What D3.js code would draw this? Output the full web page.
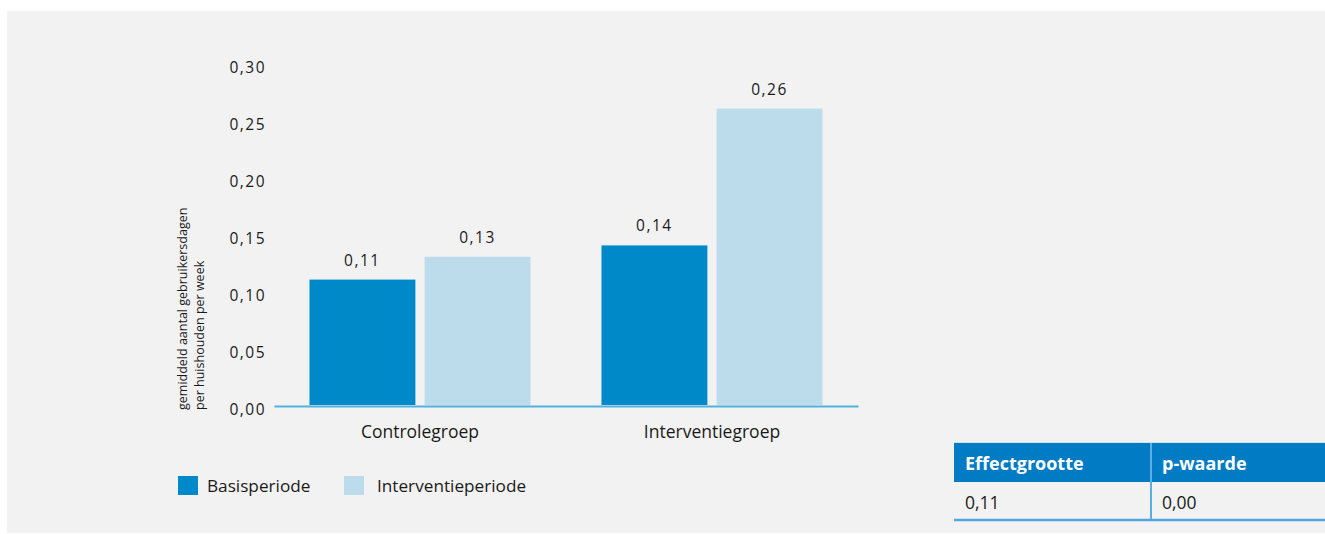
<!DOCTYPE html>
<html><head><meta charset="utf-8">
<script src="https://cdn.jsdelivr.net/npm/d3@7"></script>
<style>
html,body{margin:0;padding:0;background:#fff;}
svg{display:block;}
text{font-family:"Open Sans",sans-serif;fill:#1a1a1a;}
</style></head><body>
<svg id="c" width="1325" height="534"></svg>
<script>
const categories = ["Controlegroep", "Interventiegroep"];
const seriesNames = ["Basisperiode", "Interventieperiode"];
const basisValues = [0.11, 0.14];
const interventieValues = [0.13, 0.26];
const yTicks = [0, 0.05, 0.10, 0.15, 0.20, 0.25, 0.30];
const yTitle = ["gemiddeld aantal gebruikersdagen", "per huishouden per week"];
const tableHeaders = ["Effectgrootte", "p-waarde"];
const tableValues = ["0,11", "0,00"];

const colors = ["#0089c9", "#bcdcec"];
const fmt = v => d3.format(".2f")(v).replace(".", ",");

const svg = d3.select("#c");
svg.append("rect").attr("x",7).attr("y",11).attr("width",1318).attr("height",522).attr("fill","#f2f2f2");

const x0 = d3.scaleBand().domain(categories).range([274, 858]).paddingInner(0.243).paddingOuter(0.1215);
const x1 = d3.scaleBand().domain(seriesNames).range([0, x0.bandwidth()]).paddingInner(0.08).paddingOuter(0);
const y = d3.scaleLinear().domain([0, 0.30]).range([405, 63]);

// y tick labels
const yAxis = d3.axisLeft(y).tickValues(yTicks).tickFormat(fmt).tickSize(0).tickPadding(0);
const yg = svg.append("g").attr("transform","translate(266,5)").call(yAxis);
yg.select(".domain").remove();
yg.selectAll("text").attr("font-size",15.5).attr("fill","#1a1a1a").style("font-family","Open Sans, sans-serif").style("letter-spacing","1.5px");

// y title
const yt = svg.append("text").attr("transform","translate(187,410) rotate(-90)").attr("font-size",12.5).style("letter-spacing","0px");
yt.append("tspan").attr("x",0).attr("y",0).text(yTitle[0]);
yt.append("tspan").attr("x",0).attr("y",17).text(yTitle[1]);

const data = categories.map((c,i)=>({cat:c, vals:[{s:seriesNames[0],v:basisValues[i]},{s:seriesNames[1],v:interventieValues[i]}]}));

const groups = svg.append("g").selectAll("g").data(data).join("g").attr("transform", d=>`translate(${x0(d.cat)},0)`);
groups.selectAll("rect").data(d=>d.vals).join("rect")
  .attr("x", d=>x1(d.s)).attr("width", x1.bandwidth())
  .attr("y", d=>y(d.v)).attr("height", d=>y(0)-y(d.v))
  .attr("fill", (d,i)=>colors[i]);
groups.selectAll("text.val").data(d=>d.vals).join("text").attr("class","val")
  .attr("x", d=>x1(d.s)+x1.bandwidth()/2).attr("y", d=>y(d.v)-14)
  .attr("text-anchor","middle").attr("font-size",15.5).style("letter-spacing","1.5px").text(d=>fmt(d.v));

// x axis
const xAxis = d3.axisBottom(x0).tickSize(0).tickPadding(0);
const xg = svg.append("g").attr("transform","translate(0,406)").call(xAxis);
xg.select(".domain").attr("stroke","#4fb1de").attr("stroke-width",2);
xg.selectAll("text").attr("font-size",17.5).attr("fill","#1a1a1a").attr("dy","0").attr("y",32).style("font-family","Open Sans, sans-serif");

// legend
const legX = [178, 344];
const leg = svg.append("g").selectAll("g").data(seriesNames).join("g").attr("transform",(d,i)=>`translate(${legX[i]},476)`);
leg.append("rect").attr("width",20).attr("height",19).attr("fill",(d,i)=>colors[i]);
leg.append("text").attr("x",(d,i)=>i===0?29:33).attr("y",16).attr("font-size",17.2).text(d=>d);

// table
const tx = [954, 1151];
const tbl = svg.append("g");
tbl.append("rect").attr("x",954).attr("y",443).attr("width",371).attr("height",39).attr("fill","#007bc4");
tbl.append("line").attr("x1",954).attr("x2",1325).attr("y1",442.5).attr("y2",442.5).attr("stroke","#cfe3f0").attr("stroke-width",1);
tbl.append("line").attr("x1",1151).attr("x2",1151).attr("y1",443).attr("y2",520).attr("stroke","#5aaee0").attr("stroke-width",2);
tbl.append("line").attr("x1",954).attr("x2",1325).attr("y1",520).attr("y2",520).attr("stroke","#4fa9df").attr("stroke-width",2.5);
tbl.selectAll("text.h").data(tableHeaders).join("text").attr("class","h")
  .attr("x",(d,i)=>tx[i]+11).attr("y",470).attr("font-size",18).attr("font-weight","bold").style("fill","#fff").text(d=>d);
tbl.selectAll("text.v").data(tableValues).join("text").attr("class","v")
  .attr("x",(d,i)=>tx[i]+11).attr("y",509).attr("font-size",17.5).text(d=>d);
</script>
</body></html>
